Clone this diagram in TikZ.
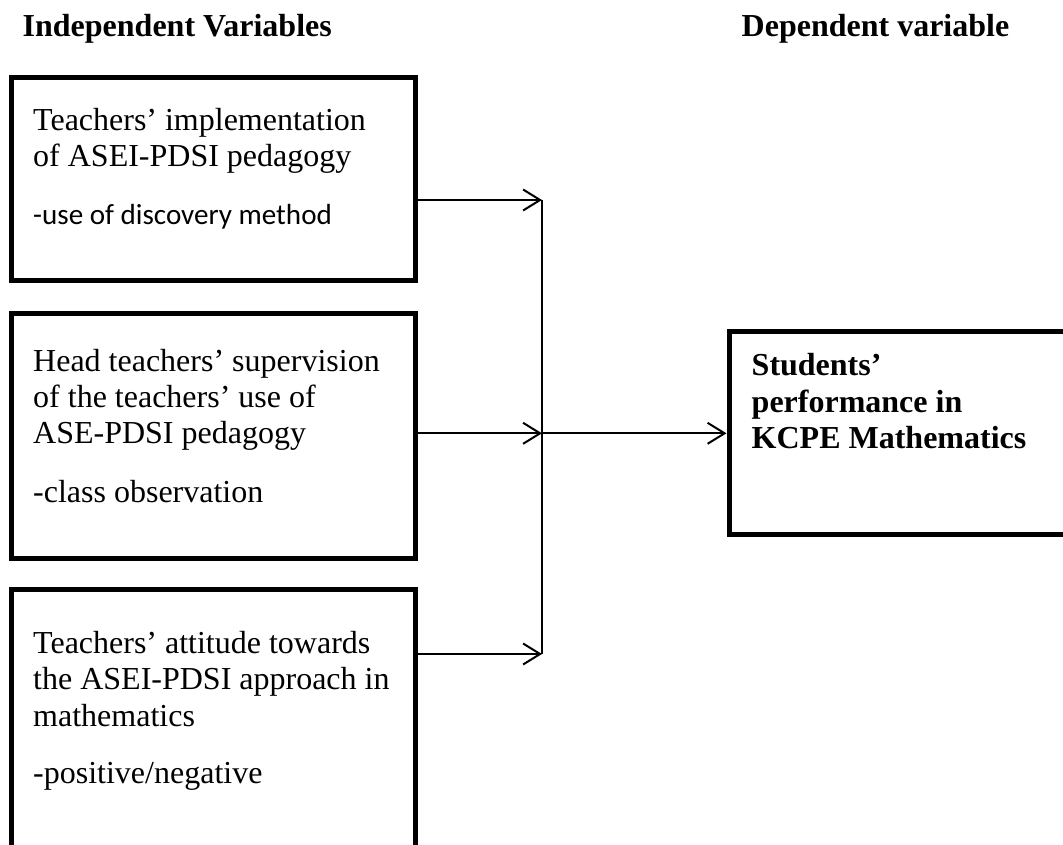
\documentclass[tikz,border=0pt]{standalone}
\usepackage{fontspec}
\setmainfont{Liberation Serif}
\newfontfamily\calib{Carlito}
\usetikzlibrary{arrows.meta}
\tikzset{
  box/.style={draw, line width=5pt, inner sep=0pt, minimum width=404pt},
  txt/.style={anchor=base west, inner sep=0pt, font=\fontsize{32}{37}\selectfont},
  hdr/.style={anchor=base west, inner sep=0pt, font=\fontsize{32}{37}\selectfont\bfseries},
  sub/.style={anchor=base west, inner sep=0pt, font=\calib\fontsize{29.1}{35}\selectfont},
  conn/.style={line width=2pt},
  arr/.style={line width=2pt, -{Straight Barb[length=17pt,width=21pt,line width=2pt]}}
}
\begin{document}
\begin{tikzpicture}[x=1pt,y=-1pt]
\useasboundingbox (0,0) rectangle (1063,845);
\clip (0,0) rectangle (1063,845);
\fill[white] (0,0) rectangle (1063,845);
% headers
\node[hdr] (h1) at (22.5,37) {Independent Variables};
\node[hdr] (h2) at (741.5,37) {Dependent variable};
% boxes
\node[box, minimum height=202.5pt] (b1) at (213,179.25) {};
\node[box, minimum height=245pt] (b2) at (213,435.5) {};
\node[box, minimum height=311pt] (b3) at (213,744.5) {};
\node[box, minimum width=380pt, minimum height=203pt] (r) at (919,432.5) {};
% box 1 text
\node[txt] (t1a) at (33,131) {Teachers’ implementation};
\node[txt] (t1b) at (33,167) {of ASEI-PDSI pedagogy};
\node[sub] (t1c) at (33,225) {-use of discovery method};
% box 2 text
\node[txt] (t2a) at (33,371) {Head teachers’ supervision};
\node[txt] (t2b) at (33,407) {of the teachers’ use of};
\node[txt] (t2c) at (33,443) {ASE-PDSI pedagogy};
\node[txt] (t2d) at (33,502) {-class observation};
% box 3 text
\node[txt] (t3a) at (33,653) {Teachers’ attitude towards};
\node[txt] (t3b) at (33,689.5) {the ASEI-PDSI approach in};
\node[txt] (t3c) at (33,726) {mathematics};
\node[txt] (t3d) at (33,783) {-positive/negative};
% right box text
\node[hdr] (ra) at (751.5,375) {Students’};
\node[hdr] (rb) at (751.5,412) {performance in};
\node[hdr] (rc) at (751.5,448) {KCPE Mathematics};
% connectors
\coordinate (j1) at (542,200);
\coordinate (j2) at (542,433.3);
\coordinate (j3) at (542,654);
\draw[arr] (b1.east |- j1) -- (j1);
\draw[arr] (b2.east |- j2) -- (j2);
\draw[arr] (b3.east |- j3) -- (j3);
\draw[conn] (j1) -- (j3);
\draw[arr] (j2) -- (r.west |- j2);
\end{tikzpicture}
\end{document}
